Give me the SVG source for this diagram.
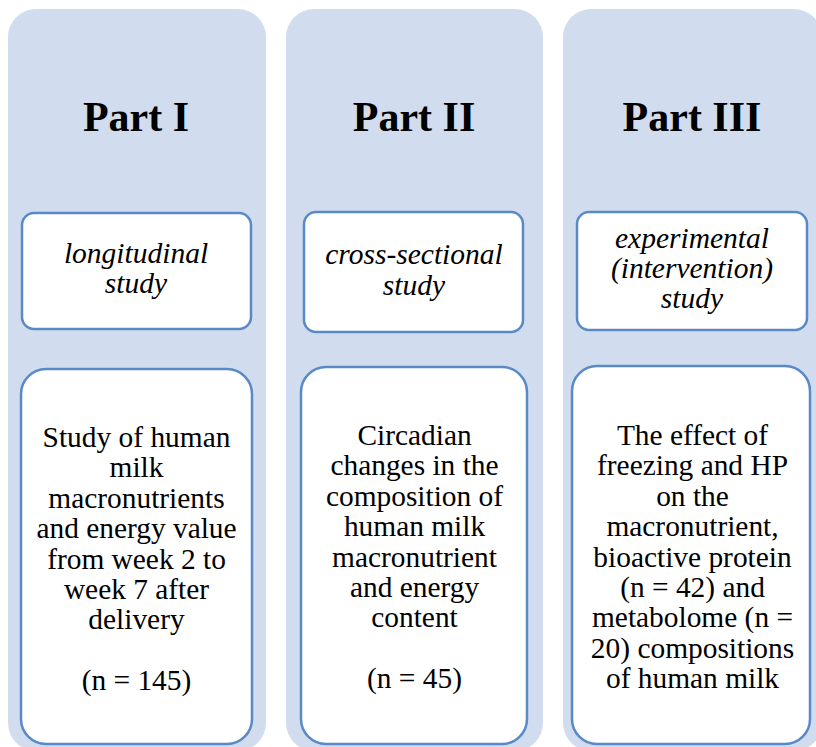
<svg xmlns="http://www.w3.org/2000/svg" width="816" height="747" viewBox="0 0 816 747">
<style>
.col{fill:#D1DDEF;stroke:none}
.box{fill:#FFFFFF;stroke:#5A8AC6;stroke-width:2.5}
.title{font-family:"Liberation Serif","Times New Roman",serif;font-weight:bold;font-size:42px;fill:#000;text-anchor:middle}
.type{font-family:"Liberation Serif","Times New Roman",serif;font-style:italic;font-size:29.5px;fill:#000;text-anchor:middle}
.body{font-family:"Liberation Serif","Times New Roman",serif;font-size:29.4px;fill:#000;text-anchor:middle}
</style>
<rect width="816" height="747" fill="#FFFFFF"/>
<g id="part1">
<rect class="col" x="8" y="9" width="258" height="742" rx="28"/>
<text class="title" x="136" y="131">Part I</text>
<g id="part1-type">
<rect class="box" x="22" y="213" width="229" height="116" rx="12"/>
<text class="type" x="136" y="263">longitudinal</text>
<text class="type" x="136" y="293">study</text>
</g>
<g id="part1-desc">
<rect class="box" x="21" y="369" width="231" height="375" rx="25"/>
<text class="body" x="136.5" y="447">Study of human</text>
<text class="body" x="136.5" y="477.4">milk</text>
<text class="body" x="136.5" y="507.8">macronutrients</text>
<text class="body" x="136.5" y="538.2">and energy value</text>
<text class="body" x="136.5" y="568.6">from week 2 to</text>
<text class="body" x="136.5" y="599">week 7 after</text>
<text class="body" x="136.5" y="629.4">delivery</text>
<text class="body" x="136.5" y="690">(n = 145)</text>
</g>
</g>
<g id="part2">
<rect class="col" x="286" y="9" width="257" height="742" rx="28"/>
<text class="title" x="414" y="131">Part II</text>
<g id="part2-type">
<rect class="box" x="304" y="212" width="219" height="120" rx="12"/>
<text class="type" x="414" y="264">cross-sectional</text>
<text class="type" x="414" y="295">study</text>
</g>
<g id="part2-desc">
<rect class="box" x="301" y="367" width="226" height="377" rx="25"/>
<text class="body" x="414.5" y="445">Circadian</text>
<text class="body" x="414.5" y="475.4">changes in the</text>
<text class="body" x="414.5" y="505.8">composition of</text>
<text class="body" x="414.5" y="536.2">human milk</text>
<text class="body" x="414.5" y="566.6">macronutrient</text>
<text class="body" x="414.5" y="597">and energy</text>
<text class="body" x="414.5" y="627.4">content</text>
<text class="body" x="414.5" y="688">(n = 45)</text>
</g>
</g>
<g id="part3">
<rect class="col" x="563" y="9" width="259" height="742" rx="28"/>
<text class="title" x="692" y="131">Part III</text>
<g id="part3-type">
<rect class="box" x="577" y="212" width="230" height="118" rx="12"/>
<text class="type" x="692" y="248">experimental</text>
<text class="type" x="692" y="278">(intervention)</text>
<text class="type" x="692" y="308">study</text>
</g>
<g id="part3-desc">
<rect class="box" x="572" y="366" width="238" height="378" rx="25"/>
<text class="body" x="692.5" y="445">The effect of</text>
<text class="body" x="692.5" y="475.4">freezing and HP</text>
<text class="body" x="692.5" y="505.8">on the</text>
<text class="body" x="692.5" y="536.2">macronutrient,</text>
<text class="body" x="692.5" y="566.6">bioactive protein</text>
<text class="body" x="692.5" y="597">(n = 42) and</text>
<text class="body" x="692.5" y="627.4">metabolome (n =</text>
<text class="body" x="692.5" y="657.8">20) compositions</text>
<text class="body" x="692.5" y="688">of human milk</text>
</g>
</g>
<g id="connectors"></g>
</svg>
